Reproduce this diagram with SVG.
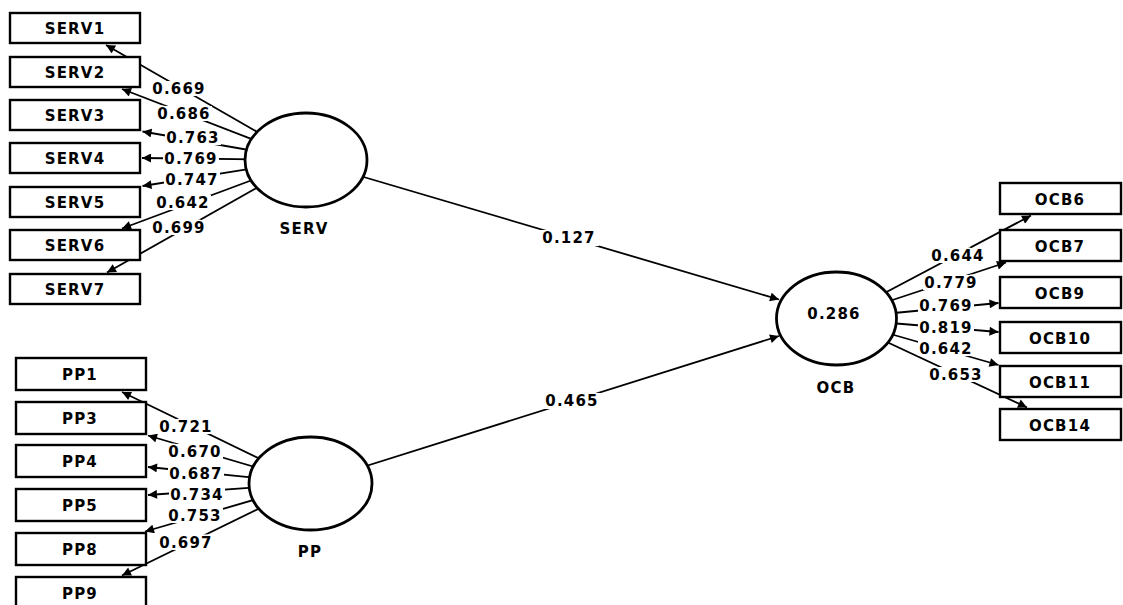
<svg xmlns="http://www.w3.org/2000/svg" width="1123" height="605" viewBox="0 0 1123 605">
  <style>
    text { font-family: "DejaVu Sans", "Liberation Sans", sans-serif; font-weight: bold; font-size: 15px; letter-spacing: 1.2px; fill: #000; text-anchor: middle; }
    .box { fill: #fff; stroke: #000; stroke-width: 2.4; }
    .lv { fill: #fff; stroke: #000; stroke-width: 2.8; }
    .edge { stroke: #000; stroke-width: 1.8; fill: none; marker-end: url(#arrow); }
    .bg { fill: #fff; }
    .lbl { stroke: #fff; stroke-width: 3; stroke-linejoin: round; paint-order: stroke; }
  </style>
  <defs>
    <marker id="arrow" markerUnits="userSpaceOnUse" viewBox="0 0 10 10" refX="10" refY="5" markerWidth="10" markerHeight="9" orient="auto">
      <path d="M0,0 L10,5 L0,10 z" fill="#000"/>
    </marker>
  </defs>

  <rect width="1123" height="605" fill="#fff"/>

  <!-- connectors: outer loadings and structural paths -->
  <g id="connectors">
    <!-- SERV indicators -->
    <line class="edge" x1="306" y1="160" x2="106" y2="45"/>
    <line class="edge" x1="306" y1="160" x2="122" y2="89"/>
    <line class="edge" x1="306" y1="160" x2="142.5" y2="131.5"/>
    <line class="edge" x1="306" y1="160" x2="142" y2="158"/>
    <line class="edge" x1="306" y1="160" x2="142.5" y2="186"/>
    <line class="edge" x1="306" y1="160" x2="122" y2="228.5"/>
    <line class="edge" x1="306" y1="160" x2="107" y2="272.5"/>
    <!-- PP indicators -->
    <line class="edge" x1="310.5" y1="483.5" x2="122" y2="392"/>
    <line class="edge" x1="310.5" y1="483.5" x2="148" y2="435.5"/>
    <line class="edge" x1="310.5" y1="483.5" x2="148" y2="467"/>
    <line class="edge" x1="310.5" y1="483.5" x2="148" y2="495"/>
    <line class="edge" x1="310.5" y1="483.5" x2="145" y2="531.5"/>
    <line class="edge" x1="310.5" y1="483.5" x2="122" y2="575.5"/>
    <!-- OCB indicators -->
    <line class="edge" x1="836.5" y1="318.5" x2="1031" y2="215.5"/>
    <line class="edge" x1="836.5" y1="318.5" x2="1006" y2="262.5"/>
    <line class="edge" x1="836.5" y1="318.5" x2="998.5" y2="303"/>
    <line class="edge" x1="836.5" y1="318.5" x2="998.5" y2="332"/>
    <line class="edge" x1="836.5" y1="318.5" x2="998.5" y2="365"/>
    <line class="edge" x1="836.5" y1="318.5" x2="1027" y2="407.5"/>
    <!-- structural paths -->
    <line class="edge" x1="306" y1="160" x2="779" y2="299.5"/>
    <line class="edge" x1="310.5" y1="483.5" x2="779" y2="336"/>
  </g>

  <!-- white plates behind the coefficient labels -->
  <g id="label-plates">
    <rect class="bg" x="151" y="81" width="56" height="15"/>
    <rect class="bg" x="156" y="106" width="56" height="15"/>
    <rect class="bg" x="165" y="130" width="56" height="15"/>
    <rect class="bg" x="163" y="151" width="56" height="15"/>
    <rect class="bg" x="164" y="172" width="56" height="15"/>
    <rect class="bg" x="155" y="195" width="56" height="15"/>
    <rect class="bg" x="151" y="220" width="56" height="15"/>

    <rect class="bg" x="158" y="419" width="56" height="15"/>
    <rect class="bg" x="167" y="444" width="56" height="15"/>
    <rect class="bg" x="168" y="466" width="56" height="15"/>
    <rect class="bg" x="169" y="487" width="56" height="15"/>
    <rect class="bg" x="167" y="508" width="56" height="15"/>
    <rect class="bg" x="158" y="535" width="56" height="15"/>

    <rect class="bg" x="930" y="248" width="56" height="15"/>
    <rect class="bg" x="923" y="275" width="56" height="15"/>
    <rect class="bg" x="918" y="298" width="56" height="15"/>
    <rect class="bg" x="918" y="320" width="56" height="15"/>
    <rect class="bg" x="918" y="341" width="56" height="15"/>
    <rect class="bg" x="928" y="367" width="56" height="15"/>

    <rect class="bg" x="539" y="230" width="60" height="16"/>
    <rect class="bg" x="542" y="393" width="60" height="16"/>
  </g>

  <!-- path coefficients and loadings -->
  <g id="coefficients">
    <text class="lbl" x="179" y="94">0.669</text>
    <text class="lbl" x="184" y="119">0.686</text>
    <text class="lbl" x="193" y="143">0.763</text>
    <text class="lbl" x="191" y="164">0.769</text>
    <text class="lbl" x="192" y="185">0.747</text>
    <text class="lbl" x="183" y="208">0.642</text>
    <text class="lbl" x="179" y="233">0.699</text>

    <text class="lbl" x="186" y="432">0.721</text>
    <text class="lbl" x="195" y="457">0.670</text>
    <text class="lbl" x="196" y="479">0.687</text>
    <text class="lbl" x="197" y="500">0.734</text>
    <text class="lbl" x="195" y="521">0.753</text>
    <text class="lbl" x="186" y="548">0.697</text>

    <text class="lbl" x="958" y="261">0.644</text>
    <text class="lbl" x="951" y="288">0.779</text>
    <text class="lbl" x="946" y="311">0.769</text>
    <text class="lbl" x="946" y="333">0.819</text>
    <text class="lbl" x="946" y="354">0.642</text>
    <text class="lbl" x="956" y="380">0.653</text>

    <text class="lbl" x="569" y="243">0.127</text>
    <text class="lbl" x="572" y="406">0.465</text>
  </g>

  <!-- latent variables -->
  <g id="SERV">
    <ellipse class="lv" cx="306" cy="160" rx="61" ry="47"/>
    <text x="304" y="234">SERV</text>
  </g>
  <g id="PP">
    <ellipse class="lv" cx="310.5" cy="483.5" rx="61.5" ry="46.5"/>
    <text x="310" y="557">PP</text>
  </g>
  <g id="OCB">
    <ellipse class="lv" cx="836.5" cy="318.5" rx="60" ry="46.5"/>
    <text x="834" y="319">0.286</text>
    <text x="836" y="393">OCB</text>
  </g>

  <!-- SERV indicators -->
  <g id="SERV1"><rect class="box" x="10" y="13" width="130" height="30"/><text x="75" y="34">SERV1</text></g>
  <g id="SERV2"><rect class="box" x="10" y="57" width="130" height="30"/><text x="75" y="78">SERV2</text></g>
  <g id="SERV3"><rect class="box" x="10" y="100" width="130" height="30"/><text x="75" y="121">SERV3</text></g>
  <g id="SERV4"><rect class="box" x="10" y="143" width="130" height="30"/><text x="75" y="164">SERV4</text></g>
  <g id="SERV5"><rect class="box" x="10" y="187" width="130" height="30"/><text x="75" y="208">SERV5</text></g>
  <g id="SERV6"><rect class="box" x="10" y="230" width="130" height="30"/><text x="75" y="251">SERV6</text></g>
  <g id="SERV7"><rect class="box" x="10" y="274" width="130" height="30"/><text x="75" y="295">SERV7</text></g>

  <!-- PP indicators -->
  <g id="PP1"><rect class="box" x="16" y="358" width="130" height="32"/><text x="80" y="380">PP1</text></g>
  <g id="PP3"><rect class="box" x="16" y="402" width="130" height="32"/><text x="80" y="424">PP3</text></g>
  <g id="PP4"><rect class="box" x="16" y="445" width="130" height="32"/><text x="80" y="467">PP4</text></g>
  <g id="PP5"><rect class="box" x="16" y="489" width="130" height="32"/><text x="80" y="511">PP5</text></g>
  <g id="PP8"><rect class="box" x="16" y="533" width="130" height="32"/><text x="80" y="555">PP8</text></g>
  <g id="PP9"><rect class="box" x="16" y="577" width="130" height="32"/><text x="80" y="599">PP9</text></g>

  <!-- OCB indicators -->
  <g id="OCB6"><rect class="box" x="1000" y="183" width="121" height="31"/><text x="1060" y="205">OCB6</text></g>
  <g id="OCB7"><rect class="box" x="1000" y="230" width="121" height="31"/><text x="1060" y="252">OCB7</text></g>
  <g id="OCB9"><rect class="box" x="1000" y="277" width="121" height="31"/><text x="1060" y="299">OCB9</text></g>
  <g id="OCB10"><rect class="box" x="1000" y="322" width="121" height="31"/><text x="1060" y="344">OCB10</text></g>
  <g id="OCB11"><rect class="box" x="1000" y="366" width="121" height="31"/><text x="1060" y="388">OCB11</text></g>
  <g id="OCB14"><rect class="box" x="1000" y="409" width="121" height="31"/><text x="1060" y="431">OCB14</text></g>
</svg>
